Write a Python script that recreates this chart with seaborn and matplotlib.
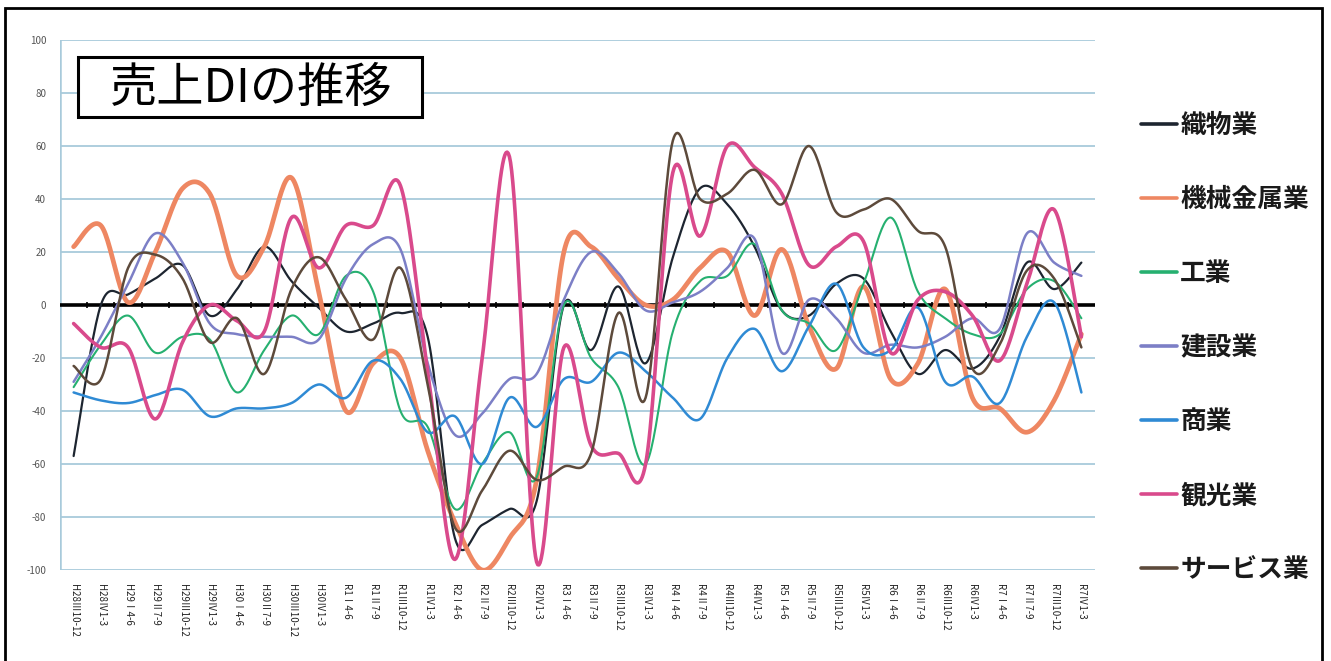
import numpy as np
import pandas as pd
import matplotlib
matplotlib.use("Agg")
import matplotlib.pyplot as plt
import matplotlib.patches as mpatches
import seaborn as sns

# ---------------- data ----------------
quarters = [
    "H28Ⅲ10-12", "H28Ⅳ1-3",
    "H29Ⅰ4-6", "H29Ⅱ7-9", "H29Ⅲ10-12", "H29Ⅳ1-3",
    "H30Ⅰ4-6", "H30Ⅱ7-9", "H30Ⅲ10-12", "H30Ⅳ1-3",
    "R1Ⅰ4-6", "R1Ⅱ7-9", "R1Ⅲ10-12", "R1Ⅳ1-3",
    "R2Ⅰ4-6", "R2Ⅱ7-9", "R2Ⅲ10-12", "R2Ⅳ1-3",
    "R3Ⅰ4-6", "R3Ⅱ7-9", "R3Ⅲ10-12", "R3Ⅳ1-3",
    "R4Ⅰ4-6", "R4Ⅱ7-9", "R4Ⅲ10-12", "R4Ⅳ1-3",
    "R5Ⅰ4-6", "R5Ⅱ7-9", "R5Ⅲ10-12", "R5Ⅳ1-3",
    "R6Ⅰ4-6", "R6Ⅱ7-9", "R6Ⅲ10-12", "R6Ⅳ1-3",
    "R7Ⅰ4-6", "R7Ⅱ7-9", "R7Ⅲ10-12", "R7Ⅳ1-3",
]

textile = [-57, 0, 4, 10, 15, -4, 6, 22, 9, -1, -10, -7, -3, -12, -88, -83, -77, -74,
           0, -17, 7, -22, 18, 44, 38, 22, -2, -4, 8, 10, -10, -26, -17, -24, -12, 16, 6, 16]
machinery = [22, 30, 1, 20, 44, 42, 11, 22, 48, 5, -40, -22, -20, -55, -82, -100, -88, -66,
             20, 22, 10, 0, 2, 14, 20, -4, 21, -8, -24, 7, -28, -22, 6, -35, -39, -48, -36, -11]
industry = [-31, -15, -4, -18, -12, -13, -33, -17, -4, -11, 11, 5, -40, -46, -77, -60, -48, -65,
            0, -20, -31, -60, -10, 9, 11, 23, -2, -7, -17, 8, 33, 5, -5, -11, -11, 6, 9, -5]
construction = [-29, -12, 8, 27, 16, -7, -11, -12, -12, -13, 10, 23, 21, -22, -49, -41, -28, -26,
                2, 20, 12, -2, 1, 5, 14, 25, -18, 2, -5, -18, -15, -16, -12, -5, -9, 27, 16, 11]
commerce = [-33, -36, -37, -34, -32, -42, -39, -39, -37, -30, -35, -21, -28, -48, -42, -60, -35, -46,
            -28, -29, -18, -25, -35, -43, -20, -9, -25, -8, 8, -16, -17, -1, -29, -27, -37, -12, 1, -33]
tourism = [-7, -16, -16, -43, -14, 0, -6, -10, 33, 14, 30, 30, 45, -25, -96, -20, 56, -97,
           -16, -53, -56, -60, 50, 26, 60, 52, 42, 15, 22, 24, -18, 2, 5, -4, -21, 8, 36, -12]
service = [-23, -28, 14, 19, 10, -14, -5, -26, 6, 18, 2, -13, 14, -30, -84, -70, -55, -66,
           -61, -56, -3, -35, 62, 40, 42, 51, 38, 60, 35, 36, 40, 28, 22, -24, -15, 13, 10, -16]

series_names = ["織物業", "機械金属業", "工業", "建設業", "商業", "観光業", "サービス業"]
series_values = [textile, machinery, industry, construction, commerce, tourism, service]
series_colors = ["#1d2530", "#ee8762", "#26b070", "#7c7fc6", "#2f8ad4", "#d94a8c", "#5d4a3b"]
series_widths = [1.6, 3.4, 1.5, 1.8, 1.8, 2.6, 1.8]

y_ticks = [100, 80, 60, 40, 20, 0, -20, -40, -60, -80, -100]


def smooth(ys, n=24):
    """Excel-like smoothed curve (Catmull-Rom Bezier) through category points."""
    ys = np.asarray(ys, dtype=float)
    xs = np.arange(len(ys), dtype=float)
    px = np.concatenate([[xs[0]], xs, [xs[-1]]])
    py = np.concatenate([[ys[0]], ys, [ys[-1]]])
    out_x, out_y = [], []
    t = np.linspace(0, 1, n, endpoint=False)
    for i in range(1, len(px) - 2):
        p0x, p1x, p2x, p3x = px[i - 1], px[i], px[i + 1], px[i + 2]
        p0y, p1y, p2y, p3y = py[i - 1], py[i], py[i + 1], py[i + 2]
        c1x, c1y = p1x + (p2x - p0x) / 6, p1y + (p2y - p0y) / 6
        c2x, c2y = p2x - (p3x - p1x) / 6, p2y - (p3y - p1y) / 6
        bx = (1 - t) ** 3 * p1x + 3 * (1 - t) ** 2 * t * c1x + 3 * (1 - t) * t ** 2 * c2x + t ** 3 * p2x
        by = (1 - t) ** 3 * p1y + 3 * (1 - t) ** 2 * t * c1y + 3 * (1 - t) * t ** 2 * c2y + t ** 3 * p2y
        out_x.extend(bx)
        out_y.extend(by)
    out_x.append(xs[-1])
    out_y.append(ys[-1])
    return np.array(out_x), np.array(out_y)


# ---------------- style ----------------
sns.set_theme(style="white")
plt.rcParams["font.family"] = ["Noto Sans CJK JP", "DejaVu Sans"]

W, H = 1331, 661
fig = plt.figure(figsize=(W / 100, H / 100), dpi=100)
fig.patch.set_facecolor("white")

ax_l, ax_r, ax_t, ax_b = 60, 1095, 40, 570
ax = fig.add_axes([ax_l / W, 1 - ax_b / H, (ax_r - ax_l) / W, (ax_b - ax_t) / H])
ax.set_facecolor("white")

grid_color = "#a8cadb"
for v in y_ticks:
    ax.axhline(v, color=grid_color, lw=1.3, zorder=0)
ax.axvline(-0.5, color=grid_color, lw=1.8, zorder=0)

# zero line (category axis)
ax.axhline(0, color="black", lw=2.6, zorder=1)
bounds = np.arange(len(quarters) - 1) + 0.5
ax.scatter(bounds, np.zeros_like(bounds), marker="|", s=14, color="black", lw=1.2, zorder=1)

handles = []
for name, vals, col, lw in zip(series_names, series_values, series_colors, series_widths):
    sx, sy = smooth(vals)
    df = pd.DataFrame({"x": sx, "y": sy})
    sns.lineplot(data=df, x="x", y="y", ax=ax, color=col, lw=lw, sort=False,
                 estimator=None, zorder=3)
    handles.append(plt.Line2D([0], [0], color=col, lw=2.6))

ax.set_xlim(-0.5, len(quarters) - 0.5)
ax.set_ylim(-100, 100)
ax.set_yticks(y_ticks)
ax.set_yticklabels([str(v) for v in y_ticks], fontsize=7, color="#555555")
ax.set_xticks(np.arange(len(quarters)))
ax.set_xticklabels(quarters, rotation=-90, fontsize=7, color="#222222", va="top", ha="center")
ax.tick_params(axis="both", length=0)
ax.tick_params(axis="y", pad=10)
ax.tick_params(axis="x", pad=10)
ax.set_xlabel("")
ax.set_ylabel("")
for s in ax.spines.values():
    s.set_visible(False)

# legend
leg = fig.legend(handles, series_names, loc="upper left",
                 bbox_to_anchor=(1131 / W, 1 - 102 / H), frameon=False,
                 prop={"size": 18.5, "weight": "bold"}, handlelength=1.4, handletextpad=0.12,
                 labelspacing=1.83, borderaxespad=0)
for t in leg.get_texts():
    t.set_color("#1a1a1a")

# title box
fig.patches.append(mpatches.Rectangle((78 / W, 1 - 117 / H), 344 / W, 60 / H,
                                      transform=fig.transFigure, facecolor="white",
                                      edgecolor="black", lw=2.2, zorder=5))
fig.text(251 / W, 1 - 89 / H, "売上DIの推移", fontsize=34, ha="center", va="center",
         color="black", zorder=6)

# outer frame
fig.patches.append(mpatches.Rectangle((5 / W, -0.05), 1317 / W, 1.05 - 8 / H,
                                      transform=fig.transFigure, facecolor="none",
                                      edgecolor="black", lw=2, zorder=0, clip_on=False))

fig.savefig("out.png", dpi=100, facecolor="white")
